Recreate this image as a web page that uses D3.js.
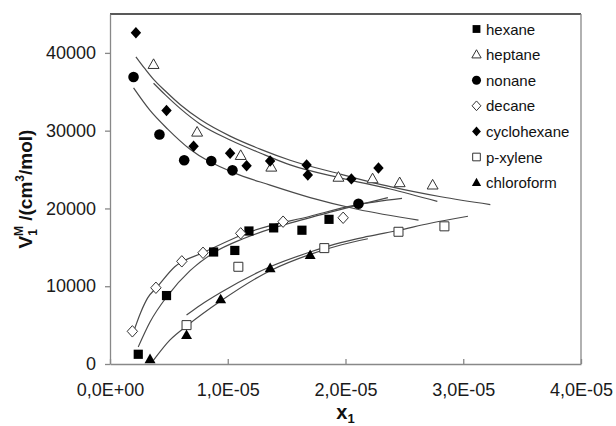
<!DOCTYPE html>
<html>
<head>
<meta charset="utf-8">
<script src="https://cdn.jsdelivr.net/npm/d3@7"></script>
<style>
    body { margin: 0; background: #fff; }
    #chart-area { width: 616px; height: 426px; }
    text { font-family: Arial, "Liberation Sans", sans-serif; }
</style>
</head>
<body>
<div id="chart-area"></div>
<script>

// measured points (x1 as mole fraction, V1M in cm3/mol)
const hexaneX = [0.24e-5, 0.48e-5, 0.88e-5, 1.06e-5, 1.18e-5, 1.39e-5, 1.63e-5, 1.86e-5];
const hexaneY = [1250, 8800, 14400, 14600, 17100, 17500, 17200, 18600];

const heptaneX = [0.37e-5, 0.74e-5, 1.11e-5, 1.37e-5, 1.94e-5, 2.23e-5, 2.46e-5, 2.74e-5];
const heptaneY = [38500, 29800, 26800, 25300, 24000, 23800, 23300, 23000];

const nonaneX = [0.20e-5, 0.42e-5, 0.63e-5, 0.86e-5, 1.04e-5, 2.11e-5];
const nonaneY = [36900, 29500, 26200, 26100, 24900, 20600];

const decaneX = [0.19e-5, 0.39e-5, 0.61e-5, 0.79e-5, 1.11e-5, 1.47e-5, 1.98e-5];
const decaneY = [4200, 9800, 13200, 14300, 16800, 18300, 18800];

const cyclohexaneX = [0.22e-5, 0.48e-5, 0.71e-5, 1.02e-5, 1.16e-5, 1.36e-5, 1.67e-5, 1.68e-5, 2.05e-5, 2.28e-5];
const cyclohexaneY = [42600, 32600, 28000, 27100, 25500, 26100, 25600, 24300, 23800, 25200];

const xyleneX = [0.65e-5, 1.09e-5, 1.82e-5, 2.45e-5, 2.84e-5];
const xyleneY = [5000, 12500, 14900, 17000, 17700];

const chloroformX = [0.34e-5, 0.65e-5, 0.94e-5, 1.36e-5, 1.70e-5];
const chloroformY = [600, 3700, 8300, 12300, 14000];

// trend lines
const fitCyclohexaneX = [0.22e-5, 0.30e-5, 0.37e-5, 0.47e-5, 0.60e-5, 0.77e-5, 1.02e-5, 1.28e-5, 1.53e-5, 1.96e-5, 2.38e-5, 2.81e-5, 3.23e-5];
const fitCyclohexaneY = [39500, 37900, 36600, 35100, 33300, 31400, 29300, 27600, 26200, 24400, 22800, 21500, 20500];

const fitHeptaneX = [0.37e-5, 0.47e-5, 0.60e-5, 0.77e-5, 1.02e-5, 1.28e-5, 1.53e-5, 1.96e-5, 2.38e-5, 2.78e-5];
const fitHeptaneY = [36100, 34600, 32800, 30800, 28800, 27100, 25600, 23900, 22500, 20900];

const fitNonaneX = [0.20e-5, 0.34e-5, 0.49e-5, 0.68e-5, 1.05e-5, 1.36e-5, 1.70e-5, 2.10e-5, 2.62e-5];
const fitNonaneY = [35500, 32600, 30200, 27600, 24600, 23000, 21400, 19900, 18500];

const fitDecaneX = [0.19e-5, 0.26e-5, 0.32e-5, 0.40e-5, 0.55e-5, 0.79e-5, 1.19e-5, 1.70e-5, 2.07e-5, 2.48e-5];
const fitDecaneY = [3700, 6600, 8500, 9900, 12500, 14300, 17000, 19000, 20400, 21300];

const fitHexaneX = [0.24e-5, 0.34e-5, 0.49e-5, 0.68e-5, 0.88e-5, 1.13e-5, 1.39e-5, 1.62e-5, 2.07e-5, 2.36e-5];
const fitHexaneY = [2200, 5400, 8800, 12000, 14300, 16100, 17500, 18500, 20300, 21400];

const fitChloroformX = [0.37e-5, 0.51e-5, 0.66e-5, 0.94e-5, 1.36e-5, 1.70e-5, 1.96e-5, 2.19e-5];
const fitChloroformY = [500, 3100, 5000, 8100, 12000, 14100, 15300, 16100];

const fitXyleneX = [0.65e-5, 0.77e-5, 0.94e-5, 1.36e-5, 1.70e-5, 1.96e-5, 2.19e-5, 2.45e-5, 2.72e-5, 3.04e-5];
const fitXyleneY = [6300, 7600, 9200, 12500, 14400, 15600, 16400, 17200, 18100, 19000];

// axes
const xTicks = [0, 1e-5, 2e-5, 3e-5, 4e-5];
const xTickLabels = ["0,0E+00", "1,0E-05", "2,0E-05", "3,0E-05", "4,0E-05"];
const yTicks = [0, 10000, 20000, 30000, 40000];


class ScatterVis {

    constructor(_parentElement) {
        this.parentElement = _parentElement;
        this.initVis();
    }

    initVis() {
        let vis = this;

        vis.margin = {top: 14, right: 35, bottom: 62, left: 110};
        vis.width = 616 - vis.margin.left - vis.margin.right;
        vis.height = 426 - vis.margin.top - vis.margin.bottom;

        vis.svg = d3.select(`#${vis.parentElement}`)
            .append("svg")
            .attr("width", 616)
            .attr("height", 426)
            .append("g")
            .attr("transform", `translate(${vis.margin.left}, ${vis.margin.top})`);

        vis.x = d3.scaleLinear().domain([0, 4e-5]).range([0, vis.width]);
        vis.y = d3.scaleLinear().domain([0, 45000]).range([vis.height, 0]);

        vis.wrangleData();
    }

    wrangleData() {
        let vis = this;

        vis.series = [
            {name: "hexane", shape: "square", filled: true, x: hexaneX, y: hexaneY},
            {name: "heptane", shape: "triangle", filled: false, x: heptaneX, y: heptaneY},
            {name: "nonane", shape: "circle", filled: true, x: nonaneX, y: nonaneY},
            {name: "decane", shape: "diamond", filled: false, x: decaneX, y: decaneY},
            {name: "cyclohexane", shape: "diamond", filled: true, x: cyclohexaneX, y: cyclohexaneY},
            {name: "p-xylene", shape: "square", filled: false, x: xyleneX, y: xyleneY},
            {name: "chloroform", shape: "triangle", filled: true, x: chloroformX, y: chloroformY}
        ];
        vis.series.forEach(s => s.points = s.x.map((v, i) => [v, s.y[i]]));

        vis.fits = [
            [fitCyclohexaneX, fitCyclohexaneY],
            [fitHeptaneX, fitHeptaneY],
            [fitNonaneX, fitNonaneY],
            [fitDecaneX, fitDecaneY],
            [fitHexaneX, fitHexaneY],
            [fitChloroformX, fitChloroformY],
            [fitXyleneX, fitXyleneY]
        ].map(f => f[0].map((v, i) => [v, f[1][i]]));

        vis.updateVis();
    }

    markerPath(shape, r) {
        if (shape === "square") return `M${-r},${-r}h${2 * r}v${2 * r}h${-2 * r}Z`;
        if (shape === "diamond") return `M0,${-r * 1.1}L${r},0L0,${r * 1.1}L${-r},0Z`;
        if (shape === "triangle") return `M0,${-r * 1.1}L${r * 1.05},${r * 0.75}L${-r * 1.05},${r * 0.75}Z`;
        return `M${r},0A${r},${r} 0 1,1 ${-r},0A${r},${r} 0 1,1 ${r},0Z`;
    }

    shapeSize(s) {
        if (s.shape === "circle") return 5.3;
        if (s.shape === "square") return s.filled ? 4.6 : 4.5;
        return 5.2;
    }

    updateVis() {
        let vis = this;

        // frame: top and right border
        vis.svg.append("line")
            .attr("x1", 0).attr("x2", vis.width).attr("y1", 0).attr("y2", 0)
            .attr("stroke", "#222").attr("stroke-width", 1.3);
        vis.svg.append("line")
            .attr("x1", vis.width).attr("x2", vis.width).attr("y1", 0).attr("y2", vis.height)
            .attr("stroke", "#888").attr("stroke-width", 1.3);

        // y axis
        let yAxis = vis.svg.append("g")
            .call(d3.axisLeft(vis.y).tickValues(yTicks).tickSizeInner(5).tickSizeOuter(0)
                .tickPadding(9).tickFormat(d3.format("d")));
        yAxis.select(".domain").attr("stroke", "#888").attr("stroke-width", 1.3);
        yAxis.selectAll(".tick line").attr("stroke", "#888").attr("stroke-width", 1.3);
        yAxis.selectAll("text").attr("font-size", 18).attr("fill", "#1a1a1a")
            .attr("font-family", "Arial, 'Liberation Sans', sans-serif");

        // x axis, ticks point inwards
        let xAxis = vis.svg.append("g")
            .attr("transform", `translate(0, ${vis.height})`)
            .call(d3.axisBottom(vis.x).tickValues(xTicks).tickSizeInner(-5).tickSizeOuter(0)
                .tickPadding(19).tickFormat((d, i) => xTickLabels[i]));
        xAxis.select(".domain").attr("stroke", "#888").attr("stroke-width", 1.3);
        xAxis.selectAll(".tick line").attr("stroke", "#888").attr("stroke-width", 1.3);
        xAxis.selectAll("text").attr("font-size", 18).attr("fill", "#1a1a1a")
            .attr("font-family", "Arial, 'Liberation Sans', sans-serif");

        // trend lines
        let line = d3.line()
            .x(d => vis.x(d[0]))
            .y(d => vis.y(d[1]))
            .curve(d3.curveMonotoneX);

        vis.svg.append("g").selectAll("path")
            .data(vis.fits)
            .enter()
            .append("path")
            .attr("d", line)
            .attr("fill", "none")
            .attr("stroke", "#4a4a4a")
            .attr("stroke-width", 1.2);

        // markers
        vis.series.forEach(s => {
            let r = vis.shapeSize(s);
            vis.svg.append("g").selectAll("path")
                .data(s.points)
                .enter()
                .append("path")
                .attr("transform", d => `translate(${vis.x(d[0])}, ${vis.y(d[1])})`)
                .attr("d", vis.markerPath(s.shape, r))
                .attr("fill", s.filled ? "#000" : "#fff")
                .attr("stroke", s.filled ? "#000" : "#333")
                .attr("stroke-width", s.filled ? 0 : 1);
        });

        // legend
        let legend = vis.svg.append("g")
            .attr("transform", `translate(${476.5 - vis.margin.left}, ${29 - vis.margin.top})`);
        vis.series.forEach((s, i) => {
            let r = vis.shapeSize(s) * 0.85;
            let row = legend.append("g").attr("transform", `translate(0, ${i * 25.6})`);
            row.append("path")
                .attr("d", vis.markerPath(s.shape, r))
                .attr("fill", s.filled ? "#000" : "#fff")
                .attr("stroke", s.filled ? "#000" : "#333")
                .attr("stroke-width", s.filled ? 0 : 1);
            row.append("text")
                .attr("x", 9.5)
                .attr("y", 5.5)
                .attr("font-size", 15)
                .attr("fill", "#111")
                .text(s.name);
        });

        // axis titles
        let yTitle = vis.svg.append("text")
            .attr("transform", `translate(${32 - vis.margin.left}, ${vis.height / 2}) rotate(-90)`)
            .attr("text-anchor", "middle")
            .attr("font-size", 19)
            .attr("font-weight", "bold")
            .attr("fill", "#111");
        yTitle.append("tspan").text("V");
        yTitle.append("tspan").attr("font-size", 12).attr("dy", 5).text("1");
        yTitle.append("tspan").attr("font-size", 12).attr("dx", -7).attr("dy", -14).text("M");
        yTitle.append("tspan").attr("dy", 9).text(" /(cm");
        yTitle.append("tspan").attr("font-size", 12).attr("dy", -8).text("3");
        yTitle.append("tspan").attr("dy", 8).text("/mol)");

        let xTitle = vis.svg.append("text")
            .attr("x", vis.width / 2)
            .attr("y", vis.height + 55)
            .attr("text-anchor", "middle")
            .attr("font-size", 20)
            .attr("font-weight", "bold")
            .attr("fill", "#111");
        xTitle.append("tspan").text("x");
        xTitle.append("tspan").attr("font-size", 13).attr("dy", 4).text("1");
    }
}

new ScatterVis("chart-area");

</script>
</body>
</html>
